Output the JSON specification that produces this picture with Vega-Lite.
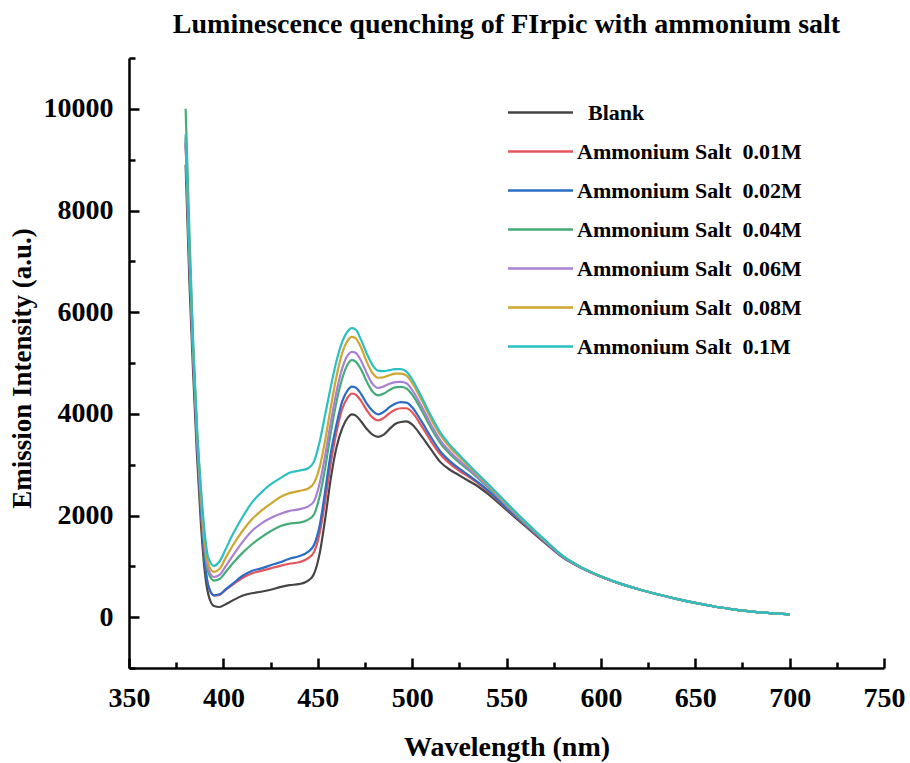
{
  "$schema": "https://vega.github.io/schema/vega-lite/v6.json",
  "width": 755,
  "height": 610,
  "autosize": {"type": "none"},
  "padding": {"left": 129, "top": 58, "right": 26, "bottom": 95},
  "background": "white",
  "title": {
    "text": "Luminescence quenching of FIrpic with ammonium salt",
    "font": "Liberation Serif",
    "fontSize": 28,
    "fontWeight": "bold",
    "color": "black",
    "anchor": "middle",
    "baseline": "bottom",
    "offset": 20,
    "dy": 43
  },
  "config": {
    "view": {"stroke": null},
    "axis": {
      "grid": false,
      "domainColor": "black",
      "domainWidth": 2.5,
      "tickColor": "black",
      "tickWidth": 2.5,
      "labelFont": "Liberation Serif",
      "labelFontWeight": "bold",
      "labelFontSize": 28,
      "labelColor": "black",
      "titleFont": "Liberation Serif",
      "titleFontWeight": "bold",
      "titleFontSize": 28,
      "titleColor": "black"
    }
  },
  "data": {"values": [
{"w":380,"s":"K","v":8900},{"w":380,"s":"R","v":9300},{"w":380,"s":"B","v":9350},{"w":380,"s":"G","v":10000},{"w":380,"s":"P","v":9400},{"w":380,"s":"Y","v":9450},{"w":380,"s":"C","v":9500},
{"w":382,"s":"K","v":6600},{"w":382,"s":"R","v":7000},{"w":382,"s":"B","v":7050},{"w":382,"s":"G","v":7600},{"w":382,"s":"P","v":7100},{"w":382,"s":"Y","v":7150},{"w":382,"s":"C","v":7200},
{"w":384,"s":"K","v":4800},{"w":384,"s":"R","v":5100},{"w":384,"s":"B","v":5150},{"w":384,"s":"G","v":5400},{"w":384,"s":"P","v":5200},{"w":384,"s":"Y","v":5250},{"w":384,"s":"C","v":5300},
{"w":386,"s":"K","v":3200},{"w":386,"s":"R","v":3450},{"w":386,"s":"B","v":3500},{"w":386,"s":"G","v":3650},{"w":386,"s":"P","v":3600},{"w":386,"s":"Y","v":3700},{"w":386,"s":"C","v":3750},
{"w":388,"s":"K","v":1900},{"w":388,"s":"R","v":2150},{"w":388,"s":"B","v":2200},{"w":388,"s":"G","v":2350},{"w":388,"s":"P","v":2400},{"w":388,"s":"Y","v":2500},{"w":388,"s":"C","v":2600},
{"w":390,"s":"K","v":950},{"w":390,"s":"R","v":1150},{"w":390,"s":"B","v":1150},{"w":390,"s":"G","v":1350},{"w":390,"s":"P","v":1450},{"w":390,"s":"Y","v":1550},{"w":390,"s":"C","v":1700},
{"w":392,"s":"K","v":450},{"w":392,"s":"R","v":620},{"w":392,"s":"B","v":620},{"w":392,"s":"G","v":880},{"w":392,"s":"P","v":950},{"w":392,"s":"Y","v":1050},{"w":392,"s":"C","v":1170},
{"w":395,"s":"K","v":220},{"w":395,"s":"R","v":430},{"w":395,"s":"B","v":430},{"w":395,"s":"G","v":720},{"w":395,"s":"P","v":790},{"w":395,"s":"Y","v":890},{"w":395,"s":"C","v":1010},
{"w":398,"s":"K","v":200},{"w":398,"s":"R","v":440},{"w":398,"s":"B","v":450},{"w":398,"s":"G","v":750},{"w":398,"s":"P","v":830},{"w":398,"s":"Y","v":950},{"w":398,"s":"C","v":1100},
{"w":401,"s":"K","v":250},{"w":401,"s":"R","v":530},{"w":401,"s":"B","v":540},{"w":401,"s":"G","v":880},{"w":401,"s":"P","v":990},{"w":401,"s":"Y","v":1150},{"w":401,"s":"C","v":1320},
{"w":405,"s":"K","v":330},{"w":405,"s":"R","v":640},{"w":405,"s":"B","v":660},{"w":405,"s":"G","v":1060},{"w":405,"s":"P","v":1210},{"w":405,"s":"Y","v":1410},{"w":405,"s":"C","v":1630},
{"w":410,"s":"K","v":420},{"w":410,"s":"R","v":770},{"w":410,"s":"B","v":810},{"w":410,"s":"G","v":1260},{"w":410,"s":"P","v":1470},{"w":410,"s":"Y","v":1690},{"w":410,"s":"C","v":1960},
{"w":415,"s":"K","v":470},{"w":415,"s":"R","v":860},{"w":415,"s":"B","v":910},{"w":415,"s":"G","v":1430},{"w":415,"s":"P","v":1690},{"w":415,"s":"Y","v":1920},{"w":415,"s":"C","v":2250},
{"w":420,"s":"K","v":500},{"w":420,"s":"R","v":910},{"w":420,"s":"B","v":960},{"w":420,"s":"G","v":1570},{"w":420,"s":"P","v":1840},{"w":420,"s":"Y","v":2090},{"w":420,"s":"C","v":2450},
{"w":425,"s":"K","v":540},{"w":425,"s":"R","v":960},{"w":425,"s":"B","v":1020},{"w":425,"s":"G","v":1690},{"w":425,"s":"P","v":1950},{"w":425,"s":"Y","v":2230},{"w":425,"s":"C","v":2610},
{"w":430,"s":"K","v":590},{"w":430,"s":"R","v":1010},{"w":430,"s":"B","v":1080},{"w":430,"s":"G","v":1790},{"w":430,"s":"P","v":2030},{"w":430,"s":"Y","v":2360},{"w":430,"s":"C","v":2730},
{"w":435,"s":"K","v":630},{"w":435,"s":"R","v":1050},{"w":435,"s":"B","v":1150},{"w":435,"s":"G","v":1840},{"w":435,"s":"P","v":2090},{"w":435,"s":"Y","v":2440},{"w":435,"s":"C","v":2840},
{"w":440,"s":"K","v":650},{"w":440,"s":"R","v":1080},{"w":440,"s":"B","v":1200},{"w":440,"s":"G","v":1860},{"w":440,"s":"P","v":2120},{"w":440,"s":"Y","v":2480},{"w":440,"s":"C","v":2880},
{"w":445,"s":"K","v":720},{"w":445,"s":"R","v":1160},{"w":445,"s":"B","v":1290},{"w":445,"s":"G","v":1920},{"w":445,"s":"P","v":2180},{"w":445,"s":"Y","v":2530},{"w":445,"s":"C","v":2930},
{"w":448,"s":"K","v":850},{"w":448,"s":"R","v":1280},{"w":448,"s":"B","v":1420},{"w":448,"s":"G","v":2020},{"w":448,"s":"P","v":2280},{"w":448,"s":"Y","v":2640},{"w":448,"s":"C","v":3060},
{"w":451,"s":"K","v":1250},{"w":451,"s":"R","v":1650},{"w":451,"s":"B","v":1800},{"w":451,"s":"G","v":2380},{"w":451,"s":"P","v":2630},{"w":451,"s":"Y","v":2950},{"w":451,"s":"C","v":3450},
{"w":454,"s":"K","v":1950},{"w":454,"s":"R","v":2300},{"w":454,"s":"B","v":2500},{"w":454,"s":"G","v":2950},{"w":454,"s":"P","v":3200},{"w":454,"s":"Y","v":3500},{"w":454,"s":"C","v":4000},
{"w":457,"s":"K","v":2750},{"w":457,"s":"R","v":3050},{"w":457,"s":"B","v":3250},{"w":457,"s":"G","v":3650},{"w":457,"s":"P","v":3850},{"w":457,"s":"Y","v":4150},{"w":457,"s":"C","v":4550},
{"w":460,"s":"K","v":3350},{"w":460,"s":"R","v":3650},{"w":460,"s":"B","v":3800},{"w":460,"s":"G","v":4250},{"w":460,"s":"P","v":4450},{"w":460,"s":"Y","v":4750},{"w":460,"s":"C","v":5050},
{"w":463,"s":"K","v":3720},{"w":463,"s":"R","v":4100},{"w":463,"s":"B","v":4250},{"w":463,"s":"G","v":4700},{"w":463,"s":"P","v":4900},{"w":463,"s":"Y","v":5200},{"w":463,"s":"C","v":5420},
{"w":466,"s":"K","v":3930},{"w":466,"s":"R","v":4330},{"w":466,"s":"B","v":4470},{"w":466,"s":"G","v":4980},{"w":466,"s":"P","v":5160},{"w":466,"s":"Y","v":5450},{"w":466,"s":"C","v":5630},
{"w":468,"s":"K","v":3990},{"w":468,"s":"R","v":4400},{"w":468,"s":"B","v":4535},{"w":468,"s":"G","v":5055},{"w":468,"s":"P","v":5220},{"w":468,"s":"Y","v":5515},{"w":468,"s":"C","v":5685},
{"w":470,"s":"K","v":3970},{"w":470,"s":"R","v":4380},{"w":470,"s":"B","v":4520},{"w":470,"s":"G","v":5030},{"w":470,"s":"P","v":5200},{"w":470,"s":"Y","v":5490},{"w":470,"s":"C","v":5660},
{"w":473,"s":"K","v":3850},{"w":473,"s":"R","v":4250},{"w":473,"s":"B","v":4390},{"w":473,"s":"G","v":4870},{"w":473,"s":"P","v":5040},{"w":473,"s":"Y","v":5300},{"w":473,"s":"C","v":5450},
{"w":476,"s":"K","v":3700},{"w":476,"s":"R","v":4070},{"w":476,"s":"B","v":4200},{"w":476,"s":"G","v":4630},{"w":476,"s":"P","v":4800},{"w":476,"s":"Y","v":5020},{"w":476,"s":"C","v":5180},
{"w":479,"s":"K","v":3590},{"w":479,"s":"R","v":3930},{"w":479,"s":"B","v":4060},{"w":479,"s":"G","v":4440},{"w":479,"s":"P","v":4590},{"w":479,"s":"Y","v":4800},{"w":479,"s":"C","v":4960},
{"w":482,"s":"K","v":3545},{"w":482,"s":"R","v":3870},{"w":482,"s":"B","v":3990},{"w":482,"s":"G","v":4365},{"w":482,"s":"P","v":4510},{"w":482,"s":"Y","v":4710},{"w":482,"s":"C","v":4850},
{"w":485,"s":"K","v":3590},{"w":485,"s":"R","v":3920},{"w":485,"s":"B","v":4040},{"w":485,"s":"G","v":4400},{"w":485,"s":"P","v":4540},{"w":485,"s":"Y","v":4720},{"w":485,"s":"C","v":4840},
{"w":488,"s":"K","v":3700},{"w":488,"s":"R","v":4010},{"w":488,"s":"B","v":4130},{"w":488,"s":"G","v":4470},{"w":488,"s":"P","v":4590},{"w":488,"s":"Y","v":4760},{"w":488,"s":"C","v":4860},
{"w":491,"s":"K","v":3800},{"w":491,"s":"R","v":4080},{"w":491,"s":"B","v":4200},{"w":491,"s":"G","v":4520},{"w":491,"s":"P","v":4625},{"w":491,"s":"Y","v":4790},{"w":491,"s":"C","v":4880},
{"w":494,"s":"K","v":3840},{"w":494,"s":"R","v":4110},{"w":494,"s":"B","v":4230},{"w":494,"s":"G","v":4530},{"w":494,"s":"P","v":4630},{"w":494,"s":"Y","v":4790},{"w":494,"s":"C","v":4880},
{"w":497,"s":"K","v":3850},{"w":497,"s":"R","v":4110},{"w":497,"s":"B","v":4220},{"w":497,"s":"G","v":4500},{"w":497,"s":"P","v":4600},{"w":497,"s":"Y","v":4750},{"w":497,"s":"C","v":4830},
{"w":500,"s":"K","v":3790},{"w":500,"s":"R","v":4030},{"w":500,"s":"B","v":4130},{"w":500,"s":"G","v":4380},{"w":500,"s":"P","v":4470},{"w":500,"s":"Y","v":4610},{"w":500,"s":"C","v":4680},
{"w":505,"s":"K","v":3560},{"w":505,"s":"R","v":3760},{"w":505,"s":"B","v":3850},{"w":505,"s":"G","v":4070},{"w":505,"s":"P","v":4150},{"w":505,"s":"Y","v":4270},{"w":505,"s":"C","v":4330},
{"w":510,"s":"K","v":3300},{"w":510,"s":"R","v":3460},{"w":510,"s":"B","v":3540},{"w":510,"s":"G","v":3720},{"w":510,"s":"P","v":3790},{"w":510,"s":"Y","v":3900},{"w":510,"s":"C","v":3960},
{"w":515,"s":"K","v":3050},{"w":515,"s":"R","v":3200},{"w":515,"s":"B","v":3260},{"w":515,"s":"G","v":3420},{"w":515,"s":"P","v":3480},{"w":515,"s":"Y","v":3580},{"w":515,"s":"C","v":3630},
{"w":520,"s":"K","v":2900},{"w":520,"s":"R","v":3020},{"w":520,"s":"B","v":3070},{"w":520,"s":"G","v":3210},{"w":520,"s":"P","v":3260},{"w":520,"s":"Y","v":3340},{"w":520,"s":"C","v":3390},
{"w":525,"s":"K","v":2790},{"w":525,"s":"R","v":2880},{"w":525,"s":"B","v":2920},{"w":525,"s":"G","v":3040},{"w":525,"s":"P","v":3080},{"w":525,"s":"Y","v":3150},{"w":525,"s":"C","v":3190},
{"w":530,"s":"K","v":2680},{"w":530,"s":"R","v":2760},{"w":530,"s":"B","v":2790},{"w":530,"s":"G","v":2890},{"w":530,"s":"P","v":2920},{"w":530,"s":"Y","v":2970},{"w":530,"s":"C","v":3000},
{"w":535,"s":"K","v":2570},{"w":535,"s":"R","v":2630},{"w":535,"s":"B","v":2650},{"w":535,"s":"G","v":2730},{"w":535,"s":"P","v":2750},{"w":535,"s":"Y","v":2790},{"w":535,"s":"C","v":2810},
{"w":540,"s":"K","v":2430},{"w":540,"s":"R","v":2480},{"w":540,"s":"B","v":2500},{"w":540,"s":"G","v":2560},{"w":540,"s":"P","v":2580},{"w":540,"s":"Y","v":2610},{"w":540,"s":"C","v":2630},
{"w":550,"s":"K","v":2110},{"w":550,"s":"R","v":2140},{"w":550,"s":"B","v":2150},{"w":550,"s":"G","v":2190},{"w":550,"s":"P","v":2200},{"w":550,"s":"Y","v":2230},{"w":550,"s":"C","v":2250},
{"w":560,"s":"K","v":1790},{"w":560,"s":"R","v":1810},{"w":560,"s":"B","v":1820},{"w":560,"s":"G","v":1840},{"w":560,"s":"P","v":1850},{"w":560,"s":"Y","v":1870},{"w":560,"s":"C","v":1880},
{"w":570,"s":"K","v":1470},{"w":570,"s":"R","v":1480},{"w":570,"s":"B","v":1490},{"w":570,"s":"G","v":1510},{"w":570,"s":"P","v":1510},{"w":570,"s":"Y","v":1520},{"w":570,"s":"C","v":1530},
{"w":580,"s":"K","v":1170},{"w":580,"s":"R","v":1175},{"w":580,"s":"B","v":1180},{"w":580,"s":"G","v":1190},{"w":580,"s":"P","v":1190},{"w":580,"s":"Y","v":1200},{"w":580,"s":"C","v":1200},
{"w":590,"s":"K","v":960},{"w":590,"s":"R","v":965},{"w":590,"s":"B","v":965},{"w":590,"s":"G","v":970},{"w":590,"s":"P","v":970},{"w":590,"s":"Y","v":975},{"w":590,"s":"C","v":975},
{"w":600,"s":"K","v":795},{"w":600,"s":"R","v":795},{"w":600,"s":"B","v":800},{"w":600,"s":"G","v":800},{"w":600,"s":"P","v":800},{"w":600,"s":"Y","v":805},{"w":600,"s":"C","v":805},
{"w":610,"s":"K","v":660},{"w":610,"s":"R","v":660},{"w":610,"s":"B","v":660},{"w":610,"s":"G","v":665},{"w":610,"s":"P","v":665},{"w":610,"s":"Y","v":665},{"w":610,"s":"C","v":665},
{"w":620,"s":"K","v":550},{"w":620,"s":"R","v":550},{"w":620,"s":"B","v":550},{"w":620,"s":"G","v":550},{"w":620,"s":"P","v":550},{"w":620,"s":"Y","v":550},{"w":620,"s":"C","v":550},
{"w":630,"s":"K","v":450},{"w":630,"s":"R","v":450},{"w":630,"s":"B","v":450},{"w":630,"s":"G","v":450},{"w":630,"s":"P","v":450},{"w":630,"s":"Y","v":450},{"w":630,"s":"C","v":450},
{"w":640,"s":"K","v":360},{"w":640,"s":"R","v":360},{"w":640,"s":"B","v":360},{"w":640,"s":"G","v":360},{"w":640,"s":"P","v":360},{"w":640,"s":"Y","v":360},{"w":640,"s":"C","v":360},
{"w":650,"s":"K","v":280},{"w":650,"s":"R","v":280},{"w":650,"s":"B","v":280},{"w":650,"s":"G","v":280},{"w":650,"s":"P","v":280},{"w":650,"s":"Y","v":280},{"w":650,"s":"C","v":280},
{"w":660,"s":"K","v":210},{"w":660,"s":"R","v":210},{"w":660,"s":"B","v":210},{"w":660,"s":"G","v":210},{"w":660,"s":"P","v":210},{"w":660,"s":"Y","v":210},{"w":660,"s":"C","v":210},
{"w":670,"s":"K","v":155},{"w":670,"s":"R","v":155},{"w":670,"s":"B","v":155},{"w":670,"s":"G","v":155},{"w":670,"s":"P","v":155},{"w":670,"s":"Y","v":155},{"w":670,"s":"C","v":155},
{"w":680,"s":"K","v":110},{"w":680,"s":"R","v":110},{"w":680,"s":"B","v":110},{"w":680,"s":"G","v":110},{"w":680,"s":"P","v":110},{"w":680,"s":"Y","v":110},{"w":680,"s":"C","v":110},
{"w":690,"s":"K","v":80},{"w":690,"s":"R","v":80},{"w":690,"s":"B","v":80},{"w":690,"s":"G","v":80},{"w":690,"s":"P","v":80},{"w":690,"s":"Y","v":80},{"w":690,"s":"C","v":80},
{"w":700,"s":"K","v":55},{"w":700,"s":"R","v":55},{"w":700,"s":"B","v":55},{"w":700,"s":"G","v":55},{"w":700,"s":"P","v":55},{"w":700,"s":"Y","v":55},{"w":700,"s":"C","v":55}
  ]},
  "mark": {"type": "line", "strokeWidth": 2.2, "interpolate": "monotone"},
  "encoding": {
    "x": {
      "field": "w", "type": "quantitative",
      "scale": {"domain": [350, 750], "nice": false, "zero": false},
      "axis": {
        "title": "Wavelength (nm)",
        "values": [350,375,400,425,450,475,500,525,550,575,600,625,650,675,700,725,750],
        "labelExpr": "datum.value % 50 === 0 ? datum.label : ''",
        "tickSize": {"condition": {"test": "datum.value % 50 === 0", "value": -10}, "value": -6},
        "labelPadding": 26,
        "labelFlush": false,
        "labelOverlap": false,
        "titleBaseline": "alphabetic",
        "titleY": 87
      }
    },
    "y": {
      "field": "v", "type": "quantitative",
      "scale": {"domain": [-1000, 11000], "nice": false, "zero": false},
      "axis": {
        "title": "Emission Intensity (a.u.)",
        "values": [-1000,0,1000,2000,3000,4000,5000,6000,7000,8000,9000,10000,11000],
        "format": "d",
        "labelExpr": "datum.value % 2000 === 0 ? datum.label : ''",
        "tickSize": {"condition": {"test": "datum.value % 2000 === 0", "value": -10}, "value": -6},
        "labelPadding": 26,
        "labelFlush": false,
        "labelOverlap": false,
        "titleFontSize": 27,
        "titleBaseline": "middle",
        "titleX": -107,
        "titleY": 310
      }
    },
    "color": {
      "field": "s", "type": "nominal",
      "scale": {
        "domain": ["K","R","B","G","P","Y","C"],
        "range": ["#454545","#e4545b","#2b6cc4","#45ab78","#a880d4","#cfa630","#2bbfc4"]
      },
      "legend": {
        "title": null,
        "orient": "none",
        "legendX": 400,
        "legendY": 43,
        "padding": 0,
        "symbolType": "M-3.25,0H3.25",
        "symbolSize": 400,
        "symbolStrokeWidth": 2.5,
        "labelFont": "Liberation Serif",
        "labelFontWeight": "bold",
        "labelFontSize": 22,
        "labelColor": "black",
        "labelOffset": 25,
        "rowPadding": 16,
        "labelLimit": 400,
        "labelExpr": "datum.value === 'K' ? '\u200b\u2002Blank' : datum.value === 'R' ? 'Ammonium Salt\u00a0 0.01M' : datum.value === 'B' ? 'Ammonium Salt\u00a0 0.02M' : datum.value === 'G' ? 'Ammonium Salt\u00a0 0.04M' : datum.value === 'P' ? 'Ammonium Salt\u00a0 0.06M' : datum.value === 'Y' ? 'Ammonium Salt\u00a0 0.08M' : 'Ammonium Salt\u00a0 0.1M'"
      }
    }
  }
}
